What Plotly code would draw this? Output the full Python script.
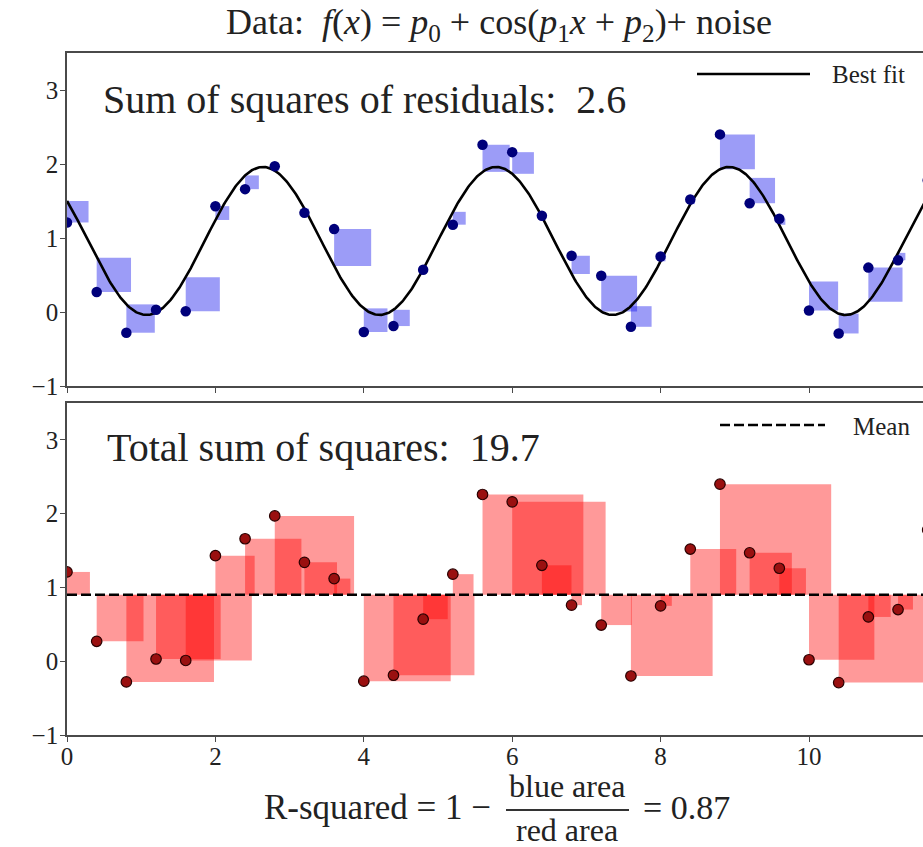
import numpy as np
import plotly.graph_objects as go

# ---------------- data ----------------
x_data = [0.0, 0.4, 0.8, 1.2, 1.6, 2.0, 2.4, 2.8, 3.2, 3.6,
          4.0, 4.4, 4.8, 5.2, 5.6, 6.0, 6.4, 6.8, 7.2, 7.6,
          8.0, 8.4, 8.8, 9.2, 9.6, 10.0, 10.4, 10.8, 11.2, 11.6]
y_data = [1.21, 0.27, -0.28, 0.03, 0.01, 1.43, 1.66, 1.97, 1.34, 1.12,
          -0.27, -0.19, 0.57, 1.18, 2.26, 2.16, 1.30, 0.76, 0.49, -0.20,
          0.75, 1.52, 2.40, 1.47, 1.26, 0.02, -0.29, 0.60, 0.70, 1.78]

# best-fit parameters of f(x) = p0 + cos(p1 x + p2)
p0_fit, p1_fit, p2_fit = 0.96, 2.0, 1.0

ssr_text = "2.6"
sst_text = "19.7"
r2_text = "0.87"

x_ticks = [0, 2, 4, 6, 8, 10]
y_ticks = [-1, 0, 1, 2, 3]

# ---------------- helpers ----------------
def fit(x):
    return p0_fit + np.cos(p1_fit * np.asarray(x) + p2_fit)

W, H = 923, 847
ML, MR, MT, MB = 67, 0, 53, 112
PW, PH = W - ML - MR, H - MT - MB

def pxx(p):
    return (p - ML) / PW

def pxy(p):
    return (H - MB - p) / PH

X_RANGE = [0, PW / 74.2]
FONT = "Liberation Serif, Times New Roman, serif"
AX_COL = "#4a4a4a"

fig = go.Figure()

# --- top panel: fit curve and data ---
x_curve = np.linspace(0, 12, 800)
fig.add_trace(go.Scatter(x=x_curve, y=fit(x_curve), mode="lines",
                         line=dict(color="black", width=2.6),
                         xaxis="x", yaxis="y", showlegend=False, hoverinfo="skip"))
fig.add_trace(go.Scatter(x=x_data, y=y_data, mode="markers",
                         marker=dict(color="#00007a", size=10.5),
                         xaxis="x", yaxis="y", showlegend=False))

# --- bottom panel: mean line and data ---
y_mean = float(np.mean(y_data))
fig.add_trace(go.Scatter(x=[0, 12], y=[y_mean, y_mean], mode="lines",
                         line=dict(color="black", width=2.6, dash="10px,4px"),
                         xaxis="x2", yaxis="y2", showlegend=False, hoverinfo="skip"))
fig.add_trace(go.Scatter(x=x_data, y=y_data, mode="markers",
                         marker=dict(color="#9a1010", size=10.5,
                                     line=dict(color="#2a0000", width=1.2)),
                         xaxis="x2", yaxis="y2", showlegend=False))

shapes = []
# residual squares (blue)
for xi, yi in zip(x_data, y_data):
    fi = float(fit(xi))
    s = abs(yi - fi)
    shapes.append(dict(type="rect", xref="x", yref="y", x0=xi, x1=xi + s,
                       y0=fi, y1=yi, fillcolor="rgba(20,20,235,0.42)",
                       line=dict(width=0), layer="below"))
# total squares (red)
for xi, yi in zip(x_data, y_data):
    s = abs(yi - y_mean)
    shapes.append(dict(type="rect", xref="x2", yref="y2", x0=xi, x1=xi + s,
                       y0=y_mean, y1=yi, fillcolor="rgba(255,0,0,0.4)",
                       line=dict(width=0), layer="below"))

# legend samples
shapes.append(dict(type="line", xref="paper", yref="paper",
                   x0=pxx(697), x1=pxx(810), y0=pxy(74), y1=pxy(74),
                   line=dict(color="black", width=2.6)))
shapes.append(dict(type="line", xref="paper", yref="paper",
                   x0=pxx(720), x1=pxx(825), y0=pxy(425), y1=pxy(425),
                   line=dict(color="black", width=2.6, dash="10px,4px")))
# fraction bar
shapes.append(dict(type="line", xref="paper", yref="paper",
                   x0=pxx(506), x1=pxx(629), y0=pxy(810), y1=pxy(810),
                   line=dict(color="#333", width=2)))

def ann(text, x, y, size, xanchor="left", color="#222"):
    return dict(text=text, x=pxx(x), y=pxy(y), xref="paper", yref="paper",
                xanchor=xanchor, yanchor="middle", showarrow=False,
                font=dict(family=FONT, size=size, color=color))

annotations = [
    ann("Data:  <i>f</i>(<i>x</i>) = <i>p</i><sub>0</sub> + cos(<i>p</i><sub>1</sub><i>x</i> + <i>p</i><sub>2</sub>)+ noise",
        499, 24, 36, xanchor="center"),
    ann("Sum of squares of residuals:  " + ssr_text, 101, 99, 40),
    ann("Total sum of squares:  " + sst_text, 105, 448, 40),
    ann("Best fit", 830, 75, 25),
    ann("Mean", 851, 426, 25),
    ann("R-squared = 1 \u2212", 493, 808, 35, xanchor="right"),
    ann("blue area", 567, 786, 32, xanchor="center"),
    ann("red area", 567, 830, 32, xanchor="center"),
    ann("= " + r2_text, 641, 808, 34),
]

axis_common = dict(showline=True, linecolor=AX_COL, linewidth=1.6,
                   ticks="outside", ticklen=5, tickwidth=1.3, tickcolor=AX_COL,
                   showgrid=False, zeroline=False,
                   tickfont=dict(family=FONT, size=25, color="#222"))

fig.update_layout(
    width=W, height=H,
    margin=dict(l=ML, r=MR, t=MT, b=MB),
    paper_bgcolor="white", plot_bgcolor="white",
    showlegend=False,
    xaxis=dict(domain=[0, 1], anchor="y", range=X_RANGE, tickvals=x_ticks,
               showticklabels=False, mirror=True, **axis_common),
    yaxis=dict(domain=[(PH - 333) / PH, 1], anchor="x", range=[-1, 3.5],
               tickvals=y_ticks, ticklabelstandoff=-3, **axis_common),
    xaxis2=dict(domain=[0, 1], anchor="y2", range=X_RANGE, tickvals=x_ticks,
                mirror=True, ticklabelstandoff=-7, **axis_common),
    yaxis2=dict(domain=[0, 332 / PH], anchor="x2", range=[-1, 3.5],
                tickvals=y_ticks, ticklabelstandoff=-3, **axis_common),
    shapes=shapes,
    annotations=annotations,
)

fig.write_html("out.html")
